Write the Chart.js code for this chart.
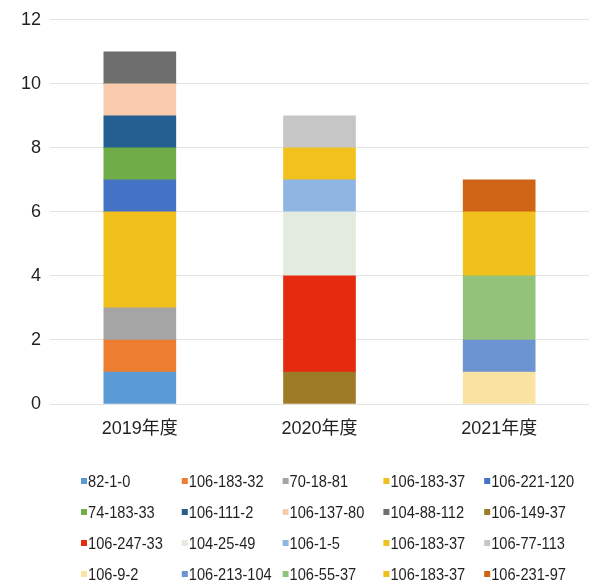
<!DOCTYPE html>
<html>
<head>
<meta charset="utf-8">
<style>
  html, body { margin: 0; padding: 0; background: #ffffff; }
  #wrap { width: 589px; height: 585px; position: relative; }
</style>
<script src="https://cdn.jsdelivr.net/npm/chart.js@4/dist/chart.umd.min.js"></script>
</head>
<body>
<div id="wrap"><canvas id="c" width="589" height="585"></canvas></div>
<script>
// Fiscal years on the x axis
const years = ['2019年度', '2020年度', '2021年度'];

// Item codes, in legend order
const codes = [
  '82-1-0', '106-183-32', '70-18-81', '106-183-37', '106-221-120',
  '74-183-33', '106-111-2', '106-137-80', '104-88-112', '106-149-37',
  '106-247-33', '104-25-49', '106-1-5', '106-183-37', '106-77-113',
  '106-9-2', '106-213-104', '106-55-37', '106-183-37', '106-231-97'
];

// Counts per code for 2019, 2020, 2021
const counts2019 = [1, 1, 1, 3, 1, 1, 1, 1, 1, 0, 0, 0, 0, 0, 0, 0, 0, 0, 0, 0];
const counts2020 = [0, 0, 0, 0, 0, 0, 0, 0, 0, 1, 3, 2, 1, 1, 1, 0, 0, 0, 0, 0];
const counts2021 = [0, 0, 0, 0, 0, 0, 0, 0, 0, 0, 0, 0, 0, 0, 0, 1, 1, 2, 2, 1];

// Segment colours
const colors = [
  '#5b9bd5', '#ed7d31', '#a5a5a5', '#f1c01c', '#4472c4',
  '#70ad47', '#255e91', '#f8cbad', '#6e6e6e', '#9e7b27',
  '#e62a10', '#e3eade', '#8fb6e2', '#f1c21e', '#c6c6c6',
  '#f9e2a2', '#6c93d2', '#93c27b', '#f1c01c', '#cf6417'
];

// Y axis ticks
const yMin = 0, yMax = 12, yStep = 2;

// Empty segments are left out so no hairline is drawn at the baseline
const orNull = v => (v === 0 ? null : v);

const datasets = codes.map((code, i) => ({
  label: code,
  data: [counts2019[i], counts2020[i], counts2021[i]].map(orNull),
  backgroundColor: colors[i],
  borderWidth: 0,
  barThickness: 72,
  stack: 's'
}));

const AXIS_FONT = '"Liberation Sans", Arial, "Noto Sans CJK JP", sans-serif';
const LEGEND_FONT = '"Liberation Sans", Arial, sans-serif';

// Grid-style legend: five columns, one row per five datasets
const gridLegend = {
  id: 'gridLegend',
  afterDraw(chart) {
    const ctx = chart.ctx;
    const cols = 5, x0 = 81, colW = 100.8, y0 = 481, rowH = 31, box = 6;
    const squeeze = 0.86; // narrow lettering
    ctx.save();
    ctx.font = '17px ' + LEGEND_FONT;
    ctx.textBaseline = 'middle';
    ctx.textAlign = 'left';
    chart.data.datasets.forEach((ds, i) => {
      const x = x0 + (i % cols) * colW;
      const y = y0 + Math.floor(i / cols) * rowH;
      ctx.fillStyle = ds.backgroundColor;
      ctx.fillRect(x, y - box / 2, box, box);
      ctx.save();
      ctx.translate(x + box + 1, y + 1);
      ctx.scale(squeeze, 1);
      ctx.fillStyle = '#231f20';
      ctx.fillText(ds.label, 0, 0);
      ctx.restore();
    });
    ctx.restore();
  }
};

new Chart(document.getElementById('c'), {
  type: 'bar',
  data: { labels: years, datasets },
  options: {
    responsive: false,
    animation: false,
    layout: { padding: { top: 10, right: 0, left: 0, bottom: 0 } },
    plugins: { legend: { display: false }, tooltip: { enabled: false } },
    scales: {
      x: {
        stacked: true,
        grid: { display: false, drawTicks: false },
        border: { display: false },
        ticks: {
          color: '#231f20',
          font: { size: 18, family: AXIS_FONT },
          padding: 14
        },
        afterFit(scale) { scale.height = 181; }
      },
      y: {
        stacked: true,
        min: yMin, max: yMax,
        grid: { color: '#e3e3e3', lineWidth: 1, drawTicks: false },
        border: { display: false },
        ticks: {
          stepSize: yStep,
          color: '#231f20',
          font: { size: 18, family: AXIS_FONT },
          padding: 9
        },
        afterFit(scale) { scale.width = 50; }
      }
    }
  },
  plugins: [gridLegend]
});
</script>
</body>
</html>
